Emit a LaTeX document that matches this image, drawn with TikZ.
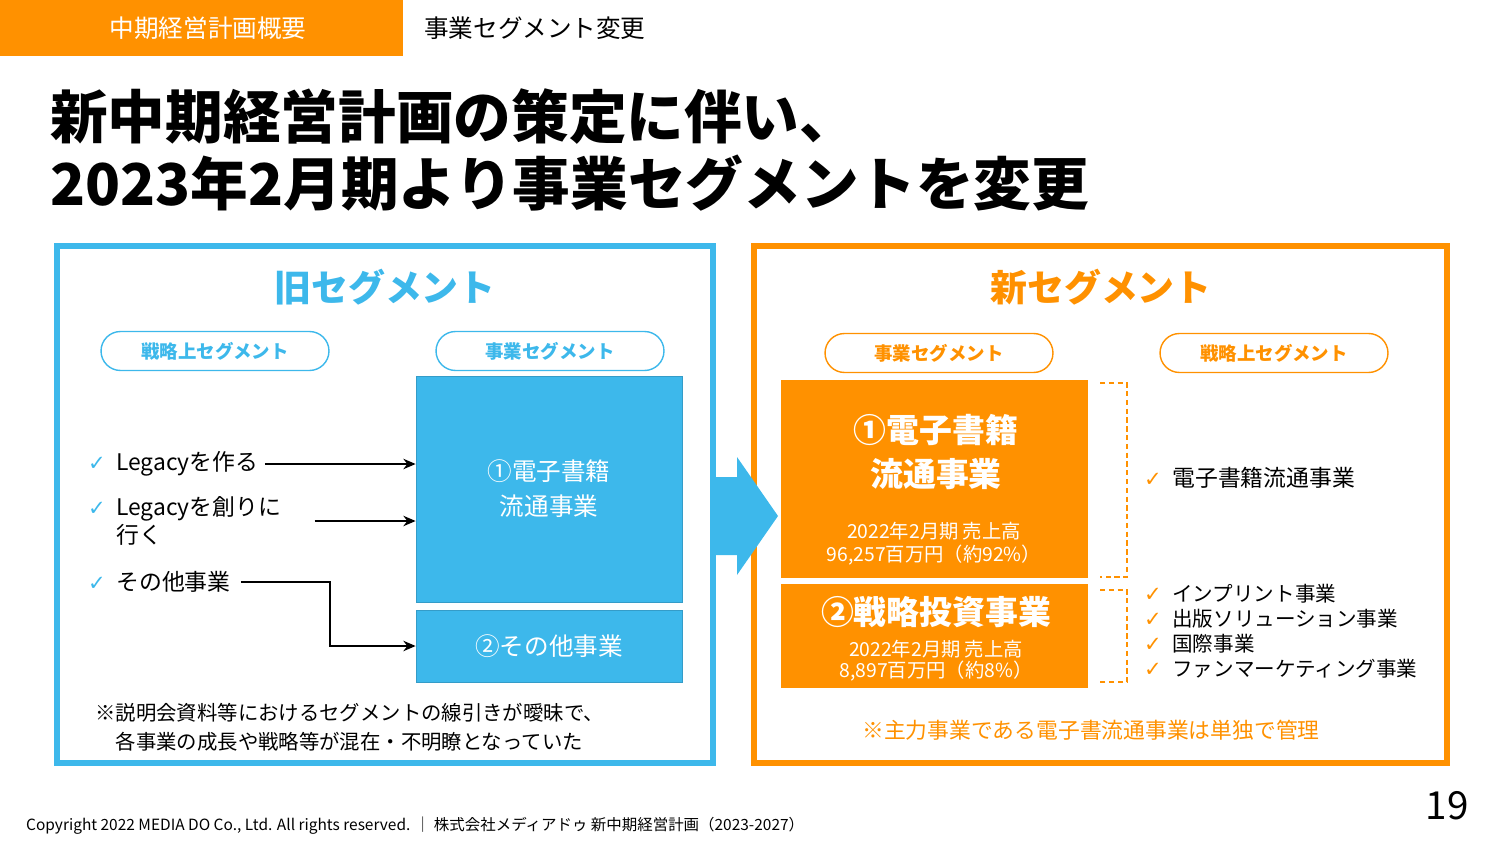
\documentclass[tikz,border=0pt]{standalone}
\usepackage{fontspec}
\setmainfont{Noto Sans CJK JP}
\newfontfamily\dejavu{DejaVu Sans}
\usetikzlibrary{arrows.meta}
\definecolor{skyblue}{RGB}{61,184,235}
\definecolor{mdorange}{RGB}{255,145,0}
\newcommand{\chkb}{\llap{{\fontsize{12}{12}\selectfont\dejavu\color{skyblue}✓}\hspace{6pt}}}
\newcommand{\chko}{\llap{{\fontsize{12}{12}\selectfont\dejavu\color{mdorange}✓}\hspace{6pt}}}
\begin{document}
\begin{tikzpicture}[x=0.02cm,y=-0.02cm,
   panel/.style={draw,line width=3.4pt},
   pill/.style={draw,line width=0.8pt,rounded corners=0.39cm,minimum width=4.56cm,
     minimum height=0.78cm,inner sep=0pt,font=\bfseries\fontsize{10.5}{12}\selectfont},
   segbox/.style={minimum width=5.32cm,inner sep=0pt,text=white},
   item/.style={anchor=west,inner sep=0pt,align=left},
   arr/.style={-{Stealth[length=7pt,width=6pt]},line width=0.8pt},
   brk/.style={mdorange,dash pattern=on 3pt off 2pt,line width=1.1pt}]
  \useasboundingbox (0,0) rectangle (1500,844);
  % header
  \fill[mdorange] (0,0) rectangle (403,56);
  \node[text=white,font=\fontsize{14}{17}\selectfont] (tab) at (208,28) {中期経営計画概要};
  \node[anchor=west,font=\fontsize{14}{17}\selectfont] (section) at (418,28) {事業セグメント変更};
  \node[anchor=west,inner sep=0pt,font=\bfseries\fontsize{32.8}{38}\selectfont] (title1) at (50,117) {新中期経営計画の策定に伴い、};
  \node[anchor=west,inner sep=0pt,font=\bfseries\fontsize{32.8}{38}\selectfont] (title2) at (50,183) {2023年2月期より事業セグメントを変更};
  % panels
  \draw[panel,skyblue] (57,246) rectangle (713,763);
  \draw[panel,mdorange] (754,246) rectangle (1447,763);
  \node[skyblue,font=\bfseries\fontsize{21}{25}\selectfont] (oldhead) at (385,287) {旧セグメント};
  \node[mdorange,font=\bfseries\fontsize{21}{25}\selectfont] (newhead) at (1101,287) {新セグメント};
  % pills
  \node[pill,skyblue] (oldstrat) at (215,351) {戦略上セグメント};
  \node[pill,skyblue] (oldbiz)   at (550,351) {事業セグメント};
  \node[pill,mdorange] (newbiz)  at (939,353) {事業セグメント};
  \node[pill,mdorange] (newstrat) at (1274,353) {戦略上セグメント};
  % old segments
  \node[segbox,fill=skyblue,draw=skyblue!85!black,line width=0.5pt,minimum height=4.52cm,
     align=center,font=\fontsize{14}{20}\selectfont] (oldbox1) at (549,489) {①電子書籍\\流通事業};
  \node[segbox,fill=skyblue,draw=skyblue!85!black,line width=0.5pt,minimum height=1.44cm,
     font=\fontsize{14}{17}\selectfont] (oldbox2) at (549,646) {②その他事業};
  \node[item,font=\fontsize{13}{16}\selectfont] (legacy1) at (116,464) {\chkb Legacyを作る};
  \node[item,font=\fontsize{13}{16}\selectfont] (legacy2) at (116,521) {\chkb Legacyを創りに\\行く};
  \node[item,font=\fontsize{13}{16}\selectfont] (other) at (116,582) {\chkb その他事業};
  \draw[arr,shorten <=0.12cm] (legacy1.east) -- (oldbox1.west |- legacy1.east);
  \draw[arr,shorten <=0.66cm] (legacy2.east) -- (oldbox1.west |- legacy2.east);
  \draw[arr] ([xshift=0.2cm]other.east) -- ++(89,0) |- (oldbox2.west);
  \node[item,font=\fontsize{11.6}{16.4}\selectfont] (oldnote) at (95,727)
     {※説明会資料等におけるセグメントの線引きが曖昧で、\\\hspace{1em}各事業の成長や戦略等が混在・不明瞭となっていた};
  % big arrow
  \fill[skyblue] (711,477) -- (737,477) -- (737,457) -- (778,516) -- (737,575)
     -- (737,555) -- (711,555) -- cycle;
  % new segments
  \node[segbox,fill=mdorange,minimum width=6.14cm,minimum height=3.96cm] (newbox1) at (934.5,479) {};
  \node[segbox,fill=mdorange,minimum width=6.14cm,minimum height=2.08cm] (newbox2) at (934.5,636) {};
  \node[text=white,align=center,font=\bfseries\fontsize{18.7}{25}\selectfont] (ebook) at (936,452) {①電子書籍\\流通事業};
  \node[text=white,align=center,font=\fontsize{11}{13}\selectfont] (ebooksales) at (934,544) {2022年2月期 売上高\\96,257百万円（約92\%）};
  \node[text=white,font=\bfseries\fontsize{18.7}{25}\selectfont] (invest) at (936,612) {②戦略投資事業};
  \node[text=white,align=center,font=\fontsize{11}{12}\selectfont] (investsales) at (936,661) {2022年2月期 売上高\\8,897百万円（約8\%）};
  % brackets
  \draw[brk] (1100,383) -- (1127,383) -- (1127,577) -- (1100,577);
  \draw[brk] (1100,590) -- (1127,590) -- (1127,682) -- (1100,682);
  \node[item,font=\fontsize{13}{16}\selectfont] (ebooklist) at (1172,478) {\chko 電子書籍流通事業};
  \node[item,font=\fontsize{11.7}{14.2}\selectfont] (investlist) at (1172,631)
     {\chko インプリント事業\\\chko 出版ソリューション事業\\\chko 国際事業\\\chko ファンマーケティング事業};
  \node[mdorange,font=\fontsize{12.4}{15}\selectfont] (newnote) at (1091,730) {※主力事業である電子書流通事業は単独で管理};
  % footer
  \node[anchor=west,font=\fontsize{8.8}{10}\selectfont] (copyright) at (20,826)
     {Copyright 2022 MEDIA DO Co., Ltd. All rights reserved. ｜ 株式会社メディアドゥ 新中期経営計画（2023-2027）};
  \node[font=\fontsize{22}{26}\selectfont] (pageno) at (1447,806) {19};
\end{tikzpicture}
\end{document}
